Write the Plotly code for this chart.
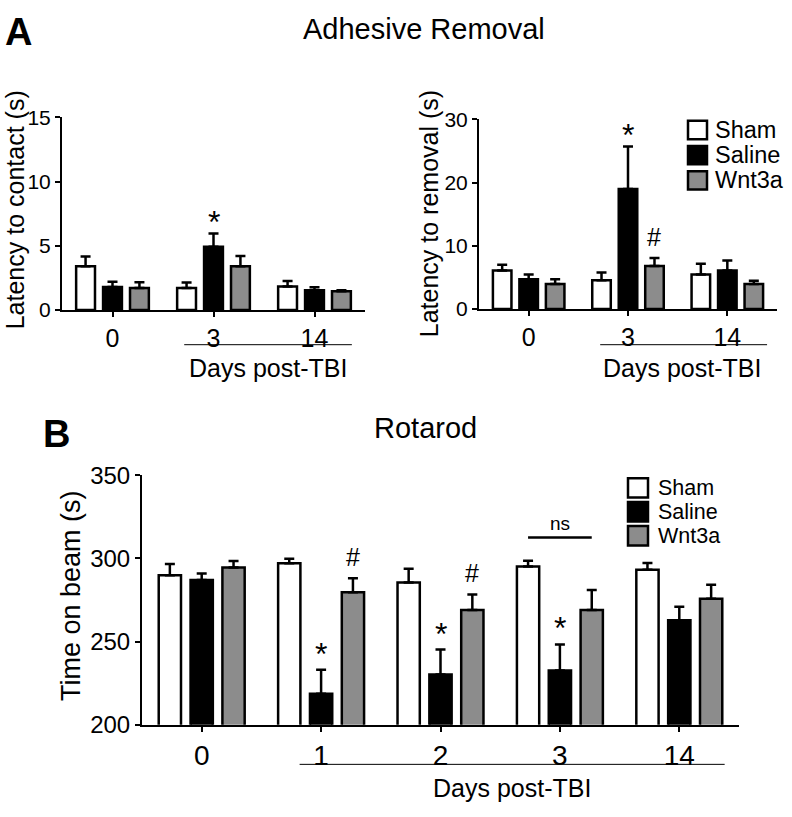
import plotly.graph_objects as go

FONT = "Liberation Sans, Arial, sans-serif"

# ---------------- data ----------------
groups = ["Sham", "Saline", "Wnt3a"]
group_colors = ["#ffffff", "#000000", "#8c8c8c"]

days_A = ["0", "3", "14"]
contact_mean = {"Sham": [3.4, 1.7, 1.83], "Saline": [1.78, 4.92, 1.53], "Wnt3a": [1.7, 3.4, 1.46]}
contact_sem = {"Sham": [0.77, 0.43, 0.43], "Saline": [0.42, 1.03, 0.23], "Wnt3a": [0.46, 0.8, 0.07]}

removal_mean = {"Sham": [6.1, 4.55, 5.46], "Saline": [4.7, 19.0, 6.07], "Wnt3a": [3.93, 6.8, 3.93]}
removal_sem = {"Sham": [0.9, 1.22, 1.69], "Saline": [0.76, 6.7, 1.58], "Wnt3a": [0.77, 1.27, 0.51]}

days_B = ["0", "1", "2", "3", "14"]
rotarod_mean = {"Sham": [289.9, 297.1, 285.5, 295.2, 293.2],
                "Saline": [287.0, 218.6, 230.2, 232.6, 262.8],
                "Wnt3a": [294.6, 279.7, 269.0, 269.0, 275.8]}
rotarod_sem = {"Sham": [6.8, 2.7, 8.3, 3.4, 4.1],
               "Saline": [3.9, 14.5, 15.0, 15.7, 8.1],
               "Wnt3a": [3.8, 8.3, 9.3, 12.0, 8.3]}

contact_marks = [("3", "Saline", "*")]
removal_marks = [("3", "Saline", "*"), ("3", "Wnt3a", "#")]
rotarod_marks = [("1", "Saline", "*"), ("1", "Wnt3a", "#"), ("2", "Saline", "*"),
                 ("2", "Wnt3a", "#"), ("3", "Saline", "*")]

BARGAP = 0.2
BARGROUPGAP = 0.3
SLOT = (1 - BARGAP) / 3

W, H = 792, 817
def px(x): return x / W
def py(y): return 1 - y / H

fig = go.Figure()

panels = [
    ("x", "y", days_A, contact_mean, contact_sem, contact_marks, -8),
    ("x2", "y2", days_A, removal_mean, removal_sem, removal_marks, -8),
    ("x3", "y3", days_B, rotarod_mean, rotarod_sem, rotarod_marks, -4),
]

annotations = []
shapes = []
for xa, ya, days, means, sems, marks, star_shift in panels:
    for g, col in zip(groups, group_colors):
        fig.add_trace(go.Bar(
            x=days, y=means[g], name=g, xaxis=xa, yaxis=ya,
            marker=dict(color=col, line=dict(color="black", width=2.5)),
            error_y=dict(type="data", symmetric=False, array=sems[g],
                         arrayminus=[0] * len(days), color="black",
                         thickness=2.5, width=5),
            showlegend=False, hoverinfo="skip"))
    for day, g, sym in marks:
        i = days.index(day)
        gi = groups.index(g)
        top = means[g][i] + sems[g][i]
        annotations.append(dict(
            x=i + (gi - 1) * SLOT, y=top, xref=xa, yref=ya, text=sym,
            showarrow=False, yanchor="bottom",
            yshift=star_shift if sym == "*" else 5,
            font=dict(family=FONT, size=32 if sym == "*" else 25, color="black")))

axis_common = dict(showline=True, linecolor="black", linewidth=2, ticks="outside",
                   ticklen=5, tickwidth=2, tickcolor="black", showgrid=False,
                   zeroline=False)

fig.update_layout(
    width=W, height=H, margin=dict(l=0, r=0, t=0, b=0),
    paper_bgcolor="white", plot_bgcolor="white",
    barmode="group", bargap=BARGAP, bargroupgap=BARGROUPGAP,
    showlegend=False,
    font=dict(family=FONT, color="black"),
    xaxis=dict(domain=[px(62), px(365)], anchor="y", type="category",
               categoryorder="array", categoryarray=days_A, range=[-0.5, 2.5],
               tickfont=dict(size=25), **axis_common),
    yaxis=dict(domain=[py(306), py(107)], anchor="x", range=[0, 15],
               tickvals=[0, 5, 10, 15], tickfont=dict(size=21), **axis_common),
    xaxis2=dict(domain=[px(479), px(777)], anchor="y2", type="category",
                categoryorder="array", categoryarray=days_A, range=[-0.5, 2.5],
                tickfont=dict(size=25), **axis_common),
    yaxis2=dict(domain=[py(305), py(109)], anchor="x2", range=[0, 30],
                tickvals=[0, 10, 20, 30], tickfont=dict(size=21), **axis_common),
    xaxis3=dict(domain=[px(142), px(739)], anchor="y3", type="category",
                categoryorder="array", categoryarray=days_B, range=[-0.5, 4.5],
                tickfont=dict(size=28), **axis_common),
    yaxis3=dict(domain=[py(735), py(477)], anchor="x3", range=[200, 350],
                tickvals=[200, 250, 300, 350], tickfont=dict(size=24), **axis_common),
)

# Titles and panel labels
annotations += [
    dict(x=px(3), y=py(19), xref="paper", yref="paper", text="<b>A</b>", showarrow=False,
         xanchor="left", yanchor="middle", font=dict(family=FONT, size=38)),
    dict(x=px(41), y=py(434), xref="paper", yref="paper", text="<b>B</b>", showarrow=False,
         xanchor="left", yanchor="middle", font=dict(family=FONT, size=38)),
    dict(x=px(424), y=py(15), xref="paper", yref="paper", text="Adhesive Removal",
         showarrow=False, xanchor="center", yanchor="middle", font=dict(family=FONT, size=29)),
    dict(x=px(425), y=py(428), xref="paper", yref="paper", text="Rotarod",
         showarrow=False, xanchor="center", yanchor="middle", font=dict(family=FONT, size=29)),
    # y-axis titles
    dict(x=px(15), y=py(203), xref="paper", yref="paper", text="Latency to contact (s)",
         textangle=-90, showarrow=False, xanchor="center", yanchor="middle",
         font=dict(family=FONT, size=25)),
    dict(x=px(429), y=py(206), xref="paper", yref="paper", text="Latency to removal (s)",
         textangle=-90, showarrow=False, xanchor="center", yanchor="middle",
         font=dict(family=FONT, size=25)),
    dict(x=px(71), y=py(602), xref="paper", yref="paper", text="Time on beam (s)",
         textangle=-90, showarrow=False, xanchor="center", yanchor="middle",
         font=dict(family=FONT, size=27)),
    # x-axis titles
    dict(x=px(268), y=py(366), xref="paper", yref="paper", text="Days post-TBI",
         showarrow=False, xanchor="center", yanchor="middle", font=dict(family=FONT, size=25)),
    dict(x=px(682), y=py(366), xref="paper", yref="paper", text="Days post-TBI",
         showarrow=False, xanchor="center", yanchor="middle", font=dict(family=FONT, size=25)),
    dict(x=px(512), y=py(800), xref="paper", yref="paper", text="Days post-TBI",
         showarrow=False, xanchor="center", yanchor="middle", font=dict(family=FONT, size=25)),
    # ns
    dict(x=3, y=312.6, xref="x3", yref="y3", text="ns", showarrow=False,
         yanchor="bottom", yshift=1, font=dict(family=FONT, size=19)),
]

# underlines for "Days post-TBI"
shapes += [
    dict(type="line", xref="x", yref="paper", x0=0.71, x1=2.37, y0=py(342), y1=py(342),
         line=dict(color="black", width=1)),
    dict(type="line", xref="x2", yref="paper", x0=0.72, x1=2.40, y0=py(342), y1=py(342),
         line=dict(color="black", width=1)),
    dict(type="line", xref="x3", yref="paper", x0=0.82, x1=4.38, y0=py(776), y1=py(776),
         line=dict(color="black", width=1)),
    dict(type="line", xref="x3", yref="y3", x0=3 - SLOT, x1=3 + SLOT, y0=312.6, y1=312.6,
         line=dict(color="black", width=2.5)),
]

# manual legends
def add_legend(x_box, y_first, step, box, text_x, fsize):
    for k, (g, col) in enumerate(zip(groups, group_colors)):
        yc = y_first + k * step
        shapes.append(dict(type="rect", xref="paper", yref="paper",
                           x0=px(x_box), x1=px(x_box + box), y0=py(yc + box / 2), y1=py(yc - box / 2),
                           fillcolor=col, line=dict(color="black", width=2.5)))
        annotations.append(dict(x=px(text_x), y=py(yc), xref="paper", yref="paper", text=g,
                                showarrow=False, xanchor="left", yanchor="middle", borderpad=0,
                                font=dict(family=FONT, size=fsize)))

add_legend(688, 120, 26, 19, 714, 23.5)
add_legend(628, 490, 24.8, 20, 657, 21.5)

fig.update_layout(annotations=annotations, shapes=shapes)
fig.write_html("out.html", config={"displayModeBar": False},
               post_script="document.body.style.margin='0';document.body.style.overflow='hidden';")
